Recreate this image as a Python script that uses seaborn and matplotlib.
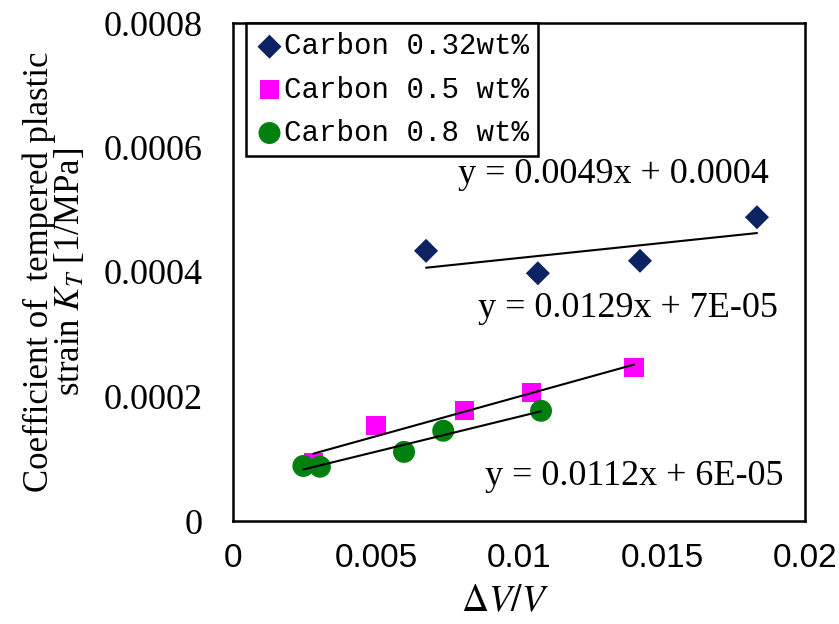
import numpy as np
import pandas as pd
import matplotlib
matplotlib.use("Agg")
import matplotlib.pyplot as plt
import seaborn as sns

# ---- data ----
series_names = ["Carbon 0.32wt%", "Carbon 0.5 wt%", "Carbon 0.8 wt%"]
series_colors = ["#0C2262", "#FF00FF", "#00800F"]
x_c032 = [0.00675, 0.01066, 0.01423, 0.01832]
y_c032 = [0.000434, 0.000398, 0.000418, 0.000488]
x_c05 = [0.00281, 0.00500, 0.00809, 0.01045, 0.01402]
y_c05 = [0.0000937, 0.000153, 0.000177, 0.000206, 0.000247]
x_c08 = [0.00246, 0.00304, 0.00598, 0.00735, 0.01077]
y_c08 = [0.0000884, 0.0000872, 0.000111, 0.000145, 0.000177]
equations = ["y = 0.0049x + 0.0004", "y = 0.0129x + 7E-05", "y = 0.0112x + 6E-05"]
eq_pos = [(0.01329, 0.000556), (0.01381, 0.000342), (0.01402, 0.0000707)]
x_ticks = [0, 0.005, 0.01, 0.015, 0.02]
x_ticklabels = ["0", "0.005", "0.01", "0.015", "0.02"]
y_ticks = [0, 0.0002, 0.0004, 0.0006, 0.0008]
y_ticklabels = ["0", "0.0002", "0.0004", "0.0006", "0.0008"]

sns.set_theme(style="white")
plt.rcParams["font.family"] = ["Liberation Serif", "DejaVu Serif"]
plt.rcParams["mathtext.fontset"] = "stix"
plt.rcParams["text.color"] = "black"
plt.rcParams["axes.labelcolor"] = "black"
plt.rcParams["xtick.color"] = "black"
plt.rcParams["ytick.color"] = "black"

fig = plt.figure(figsize=(8.39, 6.24), dpi=100)
ax = fig.add_axes([233 / 839, 103 / 624, 572 / 839, 498 / 624])

xs = [x_c032, x_c05, x_c08]
ys = [y_c032, y_c05, y_c08]
markers = ["D", "s", "o"]
sizes = [150, 190, 250]

handles = []
for name, col, xv, yv, m, s in zip(series_names, series_colors, xs, ys, markers, sizes):
    df = pd.DataFrame({"x": xv, "y": yv})
    sns.scatterplot(data=df, x="x", y="y", ax=ax, marker=m, s=s, color=col,
                    edgecolor="none", linewidth=0, zorder=3)
    handles.append(ax.collections[-1])
    sns.regplot(data=df, x="x", y="y", ax=ax, scatter=False, ci=None, truncate=True,
                line_kws=dict(color="black", lw=1.5, zorder=4))

for txt, (tx, ty) in zip(equations, eq_pos):
    ax.text(tx, ty, txt, ha="center", va="center", fontsize=26,
            family="Liberation Serif", color="black")

ax.set_xlim(0, 0.02)
ax.set_ylim(0, 0.0008)
ax.set_xticks(x_ticks)
ax.set_xticklabels(x_ticklabels, family="Liberation Sans", fontsize=24, color="black")
ax.set_yticks(y_ticks)
ax.set_yticklabels(y_ticklabels, family="Liberation Serif", fontsize=26, color="black")
ax.tick_params(axis="x", direction="in", length=7, width=1.2, pad=16, colors="black")
ax.tick_params(axis="y", direction="in", length=5, width=1.2, pad=22, colors="black")
for sp in ax.spines.values():
    sp.set_visible(True)
    sp.set_color("black")
    sp.set_linewidth(1.8)

ax.set_xlabel(r"$\Delta V/V$", fontsize=27, color="black")
ax.xaxis.set_label_coords(0.476, -0.128)
ax.set_ylabel("Coefficient of  tempered plastic\nstrain $K_T$ [1/MPa]", fontsize=25,
              linespacing=0.9, color="black")
ax.yaxis.set_label_coords(-0.255, 0.5)

leg = ax.legend(handles, series_names, loc="upper left", bbox_to_anchor=(0.022, 1.0),
                prop={"family": "Liberation Mono", "size": 21}, frameon=True,
                fancybox=False, framealpha=1, edgecolor="black", borderpad=0.32,
                handletextpad=0.0, handlelength=1.0, labelspacing=0.52,
                borderaxespad=0, markerscale=1.0)
leg.get_frame().set_linewidth(1.8)
for t in leg.get_texts():
    t.set_color("black")

fig.savefig("out.png", dpi=100, facecolor="white")
